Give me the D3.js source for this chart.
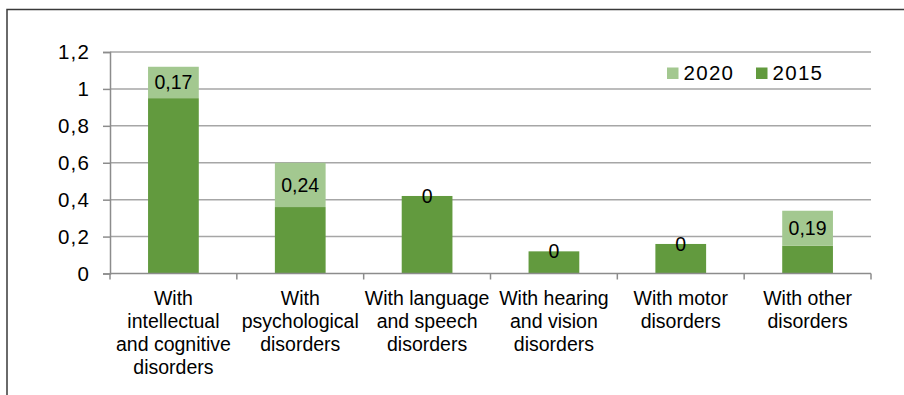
<!DOCTYPE html>
<html>
<head>
<meta charset="utf-8">
<script src="https://cdn.jsdelivr.net/npm/d3@7"></script>
<style>
  html, body { margin: 0; padding: 0; background: #fff; }
  svg { display: block; font-family: "Liberation Sans", Arial, Helvetica, sans-serif; }
</style>
</head>
<body>
<svg id="chart" width="904" height="395"></svg>
<script>
// Categories (multi-line labels)
const categories = [
  ["With", "intellectual", "and cognitive", "disorders"],
  ["With", "psychological", "disorders"],
  ["With language", "and speech", "disorders"],
  ["With hearing", "and vision", "disorders"],
  ["With motor", "disorders"],
  ["With other", "disorders"]
];
// Series values (stacked: 2015 at the base, 2020 increment on top)
const values2015 = [0.95, 0.36, 0.42, 0.12, 0.16, 0.15];
const values2020 = [0.17, 0.24, 0, 0, 0, 0.19];
const seriesNames = ["2020", "2015"];
const yTicks = [0, 0.2, 0.4, 0.6, 0.8, 1, 1.2];

const colors = { "2015": "#629a3e", "2020": "#a3c890" };
const fmt = v => String(+v.toFixed(2)).replace(".", ",");

const svg = d3.select("#chart");
const W = 904, H = 395;
const m = { left: 110, right: 871, top: 52, bottom: 273.5 };

// Outer frame (top and left edges visible)
svg.append("path")
  .attr("d", `M7,${H} V9.5 H${W}`)
  .attr("fill", "none").attr("stroke", "#3a3a3a").attr("stroke-width", 1.5);

const x = d3.scaleBand().domain(d3.range(categories.length)).range([m.left, m.right])
  .paddingInner(0.6).paddingOuter(0.3);
const y = d3.scaleLinear().domain([0, 1.2]).range([m.bottom, m.top]);

// Gridlines
svg.append("g").selectAll("line").data(yTicks.filter(t => t > 0)).join("line")
  .attr("x1", m.left).attr("x2", m.right)
  .attr("y1", d => y(d)).attr("y2", d => y(d))
  .attr("stroke", "#a6a6a6").attr("stroke-width", 1.5);

// Y axis
const yAxis = d3.axisLeft(y).tickValues(yTicks).tickSize(7).tickPadding(13).tickFormat(fmt);
const gy = svg.append("g").attr("transform", `translate(${m.left},0)`).call(yAxis);
gy.select(".domain").attr("stroke", "#8c8c8c").attr("stroke-width", 1.5);
gy.selectAll(".tick line").attr("stroke", "#8c8c8c").attr("stroke-width", 1.5);
gy.selectAll(".tick text").attr("font-size", 20.5).attr("fill", "#000")
  .attr("letter-spacing", "1.2px")
  .attr("font-family", "Liberation Sans, Arial, sans-serif");

// Stacked bars
const stackData = categories.map((c, i) => ({ i, "2015": values2015[i], "2020": values2020[i] }));
const stack = d3.stack().keys(["2015", "2020"])(stackData);

const layers = svg.append("g").selectAll("g").data(stack).join("g")
  .attr("fill", d => colors[d.key]);
layers.selectAll("rect").data(d => d).join("rect")
  .attr("x", d => x(d.data.i))
  .attr("width", x.bandwidth())
  .attr("y", d => y(d[1]))
  .attr("height", d => y(d[0]) - y(d[1]));

// X axis baseline with category ticks
const xb = svg.append("g");
xb.append("line").attr("x1", m.left).attr("x2", m.right)
  .attr("y1", m.bottom).attr("y2", m.bottom)
  .attr("stroke", "#8c8c8c").attr("stroke-width", 1.5);
const boundaries = d3.range(categories.length + 1).map(k => m.left + k * (m.right - m.left) / categories.length);
xb.selectAll("line.tk").data(boundaries).join("line").attr("class", "tk")
  .attr("x1", d => d).attr("x2", d => d)
  .attr("y1", m.bottom).attr("y2", m.bottom + 6)
  .attr("stroke", "#8c8c8c").attr("stroke-width", 1.5);

// Category labels
const lab = svg.append("g").selectAll("text").data(categories).join("text")
  .attr("text-anchor", "middle").attr("font-size", 19.5).attr("fill", "#000")
  .attr("x", (d, i) => x(i) + x.bandwidth() / 2)
  .attr("y", 304.5);
lab.selectAll("tspan").data(d => d).join("tspan")
  .attr("x", function () { return d3.select(this.parentNode).attr("x"); })
  .attr("dy", (d, k) => k === 0 ? 0 : 23.3)
  .text(d => d);

// Value labels for the 2020 segment, centred on the segment
const upperLayer = stack.find(s => s.key === "2020");
svg.append("g").selectAll("text").data(upperLayer).join("text")
  .attr("text-anchor", "middle").attr("font-size", 19.5).attr("fill", "#000")
  .attr("x", d => x(d.data.i) + x.bandwidth() / 2)
  .attr("y", d => (y(d[0]) + y(d[1])) / 2)
  .attr("dy", "0.36em")
  .text(d => fmt(d[1] - d[0]));

// Legend
const legend = svg.append("g");
const legItems = [{ k: "2020", x: 667 }, { k: "2015", x: 756 }];
legItems.forEach(it => {
  legend.append("rect").attr("x", it.x).attr("y", 67.5).attr("width", 11.5).attr("height", 11.5)
    .attr("fill", colors[it.k]);
  legend.append("text").attr("x", it.x + 16.5).attr("y", 80).attr("font-size", 20.5)
    .attr("letter-spacing", "1.3px")
    .attr("fill", "#000").text(it.k);
});
</script>
</body>
</html>
